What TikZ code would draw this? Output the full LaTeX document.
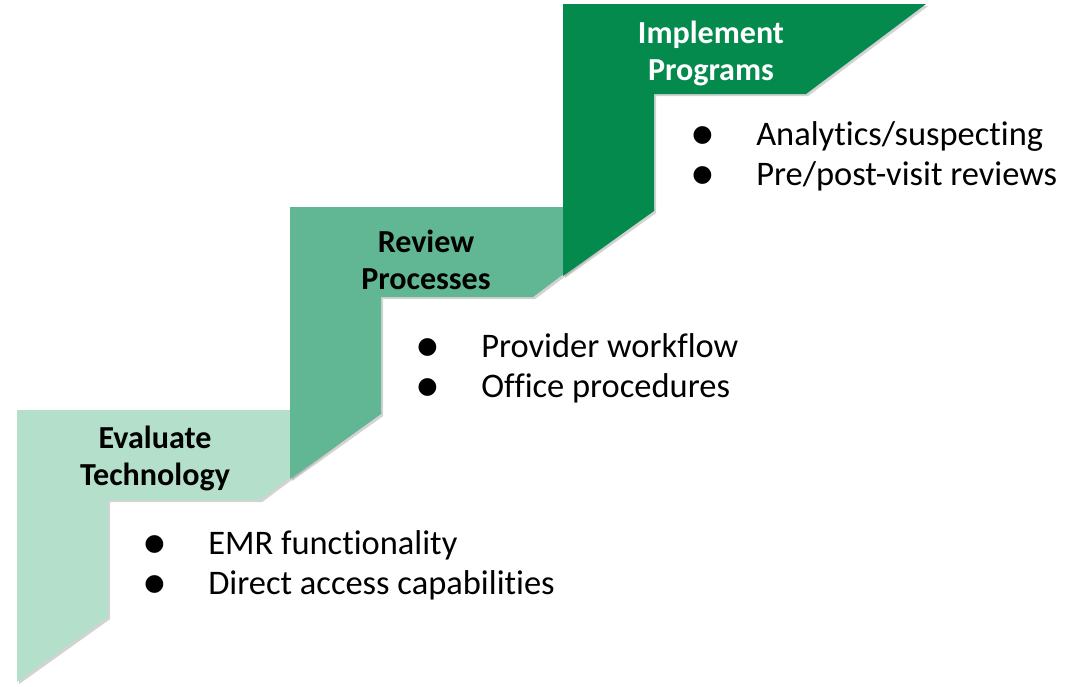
\documentclass[tikz,border=0pt]{standalone}
\usepackage{fontspec}
\setmainfont{Carlito}[Ligatures={NoCommon}]
\newfontfamily\dotfont{DejaVu Sans}
\usetikzlibrary{shadows}
\definecolor{stepone}{HTML}{B3DFCB}
\definecolor{steptwo}{HTML}{61B793}
\definecolor{stepthree}{HTML}{058A4E}
\newcommand{\stepitem}[1]{\makebox[45.5pt][l]{\raisebox{2.5pt}{\dotfont\fontsize{16.5}{16.5}\selectfont ●}}#1}

\begin{document}
\begin{tikzpicture}
  [x=0.025cm,y=-0.025cm,
   stair/.style={drop shadow={opacity=.35,shadow xshift=1.5pt,shadow yshift=-1.5pt}},
   title/.style={font=\bfseries\fontsize{22.8}{26.3}\selectfont,align=center,inner sep=0pt},
   items/.style={font=\fontsize{24.5}{28.5}\selectfont,align=left,anchor=west,inner sep=0pt}]
  \useasboundingbox (0,0) rectangle (1073,686);
  % the three steps, each one shifted up and right
  \foreach \i/\col in {0/stepone,1/steptwo,2/stepthree}
  \fill[\col,stair,shift={(273*\i,-203*\i)}]
    (17,410) -- (380,410) -- (260,500) -- (108,500) -- (108,617) -- (17,682) -- cycle;
  \node[title] (eval) at (155,458) {Evaluate\\Technology};
  \node[title] (review) at (426,260) {Review\\Processes};
  \node[title,white] (impl) at (711,53) {Implement\\Programs};
  \node[items] (evallist) at (144,565)
    {\stepitem{EMR functionality}\\\stepitem{Direct access capabilities}};
  \node[items] (reviewlist) at (417,368)
    {\stepitem{Provider workflow}\\\stepitem{Office procedures}};
  \node[items] (impllist) at (692,156)
    {\stepitem{Analytics/suspecting}\\\stepitem{Pre/post-visit reviews}};
\end{tikzpicture}
\end{document}
